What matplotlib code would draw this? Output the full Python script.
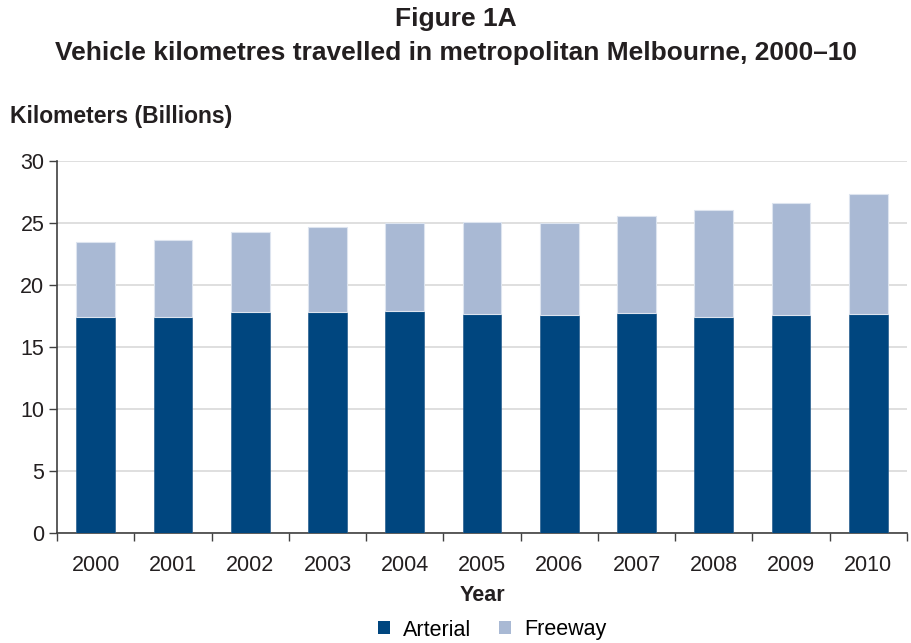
import matplotlib
matplotlib.use("Agg")
import matplotlib.pyplot as plt
import numpy as np

years = ["2000", "2001", "2002", "2003", "2004", "2005", "2006", "2007", "2008", "2009", "2010"]
arterial = [17.45, 17.45, 17.82, 17.80, 17.90, 17.69, 17.58, 17.72, 17.45, 17.60, 17.66]
total = [23.44, 23.63, 24.30, 24.68, 25.02, 25.08, 25.00, 25.59, 26.02, 26.64, 27.34]
freeway = [t - a for t, a in zip(total, arterial)]

plt.rcParams['font.family'] = ['Liberation Sans', 'DejaVu Sans']

fig = plt.figure(figsize=(9.12, 6.43), dpi=100)
ax = fig.add_axes([57/912, 1 - 533/643, 850/912, 372/643])

x = np.arange(len(years))
c_art = '#00467F'
c_fwy = '#A9B9D4'
ax.bar(x, arterial, width=0.5, color=c_art, edgecolor='#2a5f8f', linewidth=0.5, label='Arterial', zorder=3)
ax.bar(x, freeway, bottom=arterial, width=0.5, color=c_fwy, edgecolor='#dde4ef', linewidth=0.8, label='Freeway', zorder=3)

ax.set_xlim(-0.5, len(years) - 0.5)
ax.set_ylim(0, 30)
ax.set_yticks([0, 5, 10, 15, 20, 25, 30])
ax.yaxis.grid(True, color='#d9d9d9', linewidth=1.2, zorder=0)
ax.set_axisbelow(True)

ax.set_xticks(x)
ax.set_xticklabels(years)
ax.set_xticks(np.arange(-0.5, len(years) + 0.5, 1), minor=True)
ax.tick_params(axis='x', which='major', length=0, pad=16, labelsize=15.5, colors='#231f20')
ax.tick_params(axis='x', which='minor', length=6, width=1, direction='out', color='#404040')
ax.tick_params(axis='y', length=6, width=1, direction='out', color='#404040', labelsize=15.5, labelcolor='#231f20', pad=3)

for s in ['top', 'right']:
    ax.spines[s].set_visible(False)
ax.spines['left'].set_color('#404040')
ax.spines['bottom'].set_color('#404040')
ax.spines['left'].set_linewidth(1.2)
ax.spines['bottom'].set_linewidth(1.2)

ax.set_xlabel('Year', fontsize=15.5, fontweight='bold', color='#231f20', labelpad=6)

fig.text(0.5, 1 - 19/643, 'Figure 1A', ha='center', va='center', fontsize=19, fontweight='bold', color='#231f20')
fig.text(0.5, 1 - 53/643, 'Vehicle kilometres travelled in metropolitan Melbourne, 2000\u201310', ha='center', va='center', fontsize=19, fontweight='bold', color='#231f20')
fig.text(10/912, 1 - 116/643, 'Kilometers (Billions)', ha='left', va='center', fontsize=16.5, fontweight='bold', color='#231f20')

leg = fig.legend(loc='center', bbox_to_anchor=(0.54, 1 - 630/643), ncol=2, frameon=False, fontsize=15.5,
                 handlelength=0.55, handleheight=0.55, handletextpad=0.6, columnspacing=1.3)
for h in leg.legend_handles:
    h.set_edgecolor('none')

fig.savefig('out.png', dpi=100)
